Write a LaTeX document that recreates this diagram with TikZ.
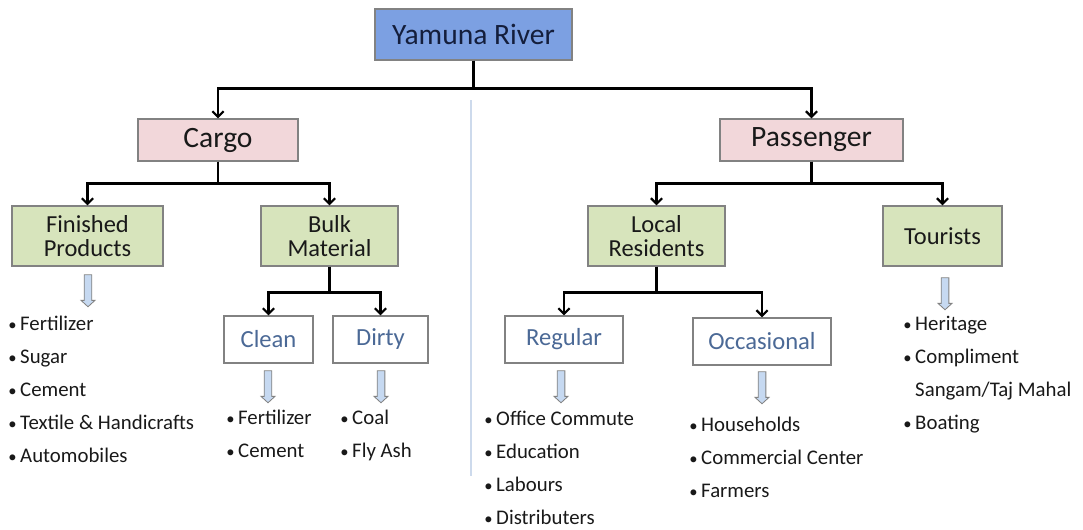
\documentclass[tikz,border=0pt]{standalone}
\usepackage{fontspec}
\setmainfont{Carlito}
\usepackage{tikz}
\usetikzlibrary{shapes.geometric,shapes.arrows,arrows.meta,calc,positioning}

\definecolor{rivblue}{RGB}{124,160,226}
\definecolor{cargopink}{RGB}{242,215,218}
\definecolor{leafgreen}{RGB}{215,228,188}
\definecolor{edgegray}{RGB}{130,130,130}
\definecolor{labblue}{RGB}{75,105,150}
\definecolor{arrfill}{RGB}{198,217,241}
\definecolor{sepblue}{RGB}{205,218,236}
\definecolor{txtgray}{RGB}{25,25,25}
\definecolor{navy}{RGB}{20,30,60}

\newcommand{\bul}{\makebox[8.5pt][l]{\scalebox{0.8}{\textbullet}}}

\tikzset{
  topbox/.style={draw=edgegray, line width=0.8pt, fill=rivblue, text=navy, inner sep=0pt,
    minimum width=4.925cm, minimum height=1.275cm, font=\fontsize{21}{24}\selectfont},
  pinkbox/.style={draw=edgegray, line width=0.8pt, fill=cargopink, text=txtgray, inner sep=0pt,
    minimum height=1.05cm, font=\fontsize{21}{24}\selectfont},
  greenbox/.style={draw=edgegray, line width=0.8pt, fill=leafgreen, text=txtgray, inner sep=0pt,
    minimum height=1.5cm, align=center, font=\fontsize{17.4}{16.5}\selectfont},
  whitebox/.style={draw=edgegray, line width=0.8pt, fill=white, text=labblue, inner sep=0pt,
    minimum height=1.175cm, font=\fontsize{17.5}{20}\selectfont},
  downarr/.style={single arrow, rotate=-90, draw=edgegray, fill=arrfill,
    line width=0.6pt, inner xsep=0pt, inner ysep=0.085cm, minimum height=0.8cm,
    single arrow head extend=0.08cm, single arrow tip angle=95},
  itemlist/.style={anchor=north west, inner sep=0pt, align=left, text=txtgray,
    font=\fontsize{14.8}{23.5}\selectfont},
  conn/.style={-{Straight Barb[length=4pt,width=8pt]}, line width=1.6pt, black}
}

\begin{document}
\begin{tikzpicture}[x=0.025cm, y=-0.025cm]
\useasboundingbox (0,0) rectangle (1083,529);

% separator
\draw[sepblue, line width=1pt] (471,100) -- (471,476);

% boxes
\node[topbox] (yamuna) at (473.5,34.5) {Yamuna River};
\node[pinkbox, minimum width=4.0cm] (cargo) at (218,140) {Cargo};
\node[pinkbox, minimum width=4.575cm] (passenger) at (811.5,140) {Passenger};
\node[greenbox, minimum width=3.775cm] (finished) at (87.5,236) {Finished\\Products};
\node[greenbox, minimum width=3.425cm] (bulk) at (329.5,236) {Bulk\\Material};
\node[greenbox, minimum width=3.425cm] (local) at (656.5,236) {Local\\Residents};
\node[greenbox, minimum width=2.975cm] (tourists) at (942.5,236) {Tourists};
\node[whitebox, minimum width=2.225cm] (clean) at (268.5,339.5) {Clean};
\node[whitebox, minimum width=2.375cm] (dirty) at (380.5,339.5) {Dirty};
\node[whitebox, minimum width=2.95cm] (regular) at (564,339.5) {Regular};
\node[whitebox, minimum width=3.45cm] (occasional) at (762,341.5) {Occasional};

% connectors
\draw[conn] (yamuna.south) -- ++(0,28) -| (cargo.north);
\draw[conn] (yamuna.south) -- ++(0,28) -| (passenger.north);
\draw[conn] (cargo.south) -- ++(0,22) -| (finished.north);
\draw[conn] (cargo.south) -- ++(0,22) -| (bulk.north);
\draw[conn] (passenger.south) -- ++(0,22) -| (local.north);
\draw[conn] (passenger.south) -- ++(0,22) -| (tourists.north);
\draw[conn] (bulk.south) -- ++(0,26) -| (clean.north);
\draw[conn] (bulk.south) -- ++(0,26) -| (dirty.north);
\draw[conn] (local.south) -- ++(0,26) -| (regular.north);
\draw[conn] (local.south) -- ++(0,26) -| (occasional.north);

% block arrows
\node[downarr] (finarr) at (88,289) {};
\node[downarr] (clearr) at (268,385) {};
\node[downarr] (dirarr) at (381,385) {};
\node[downarr] (regarr) at (561,385) {};
\node[downarr] (occarr) at (762,386) {};
\node[downarr] (touarr) at (945,292) {};

% lists
\node[itemlist] (finlist) at (8,316) {\bul Fertilizer\\\bul Sugar\\\bul Cement\\\bul Textile \& Handicrafts\\\bul Automobiles};
\node[itemlist] (clelist) at (226,409.5) {\bul Fertilizer\\\bul Cement};
\node[itemlist] (dirlist) at (340,409.5) {\bul Coal\\\bul Fly Ash};
\node[itemlist] (reglist) at (484,410.5) {\bul Office Commute\\\bul Education\\\bul Labours\\\bul Distributers};
\node[itemlist] (occlist) at (689,416.5) {\bul Households\\\bul Commercial Center\\\bul Farmers};
\node[itemlist] (toulist) at (903,315.5) {\bul Heritage\\\bul Compliment\\\hspace*{8.5pt}Sangam/Taj Mahal\\\bul Boating};
\end{tikzpicture}
\end{document}
